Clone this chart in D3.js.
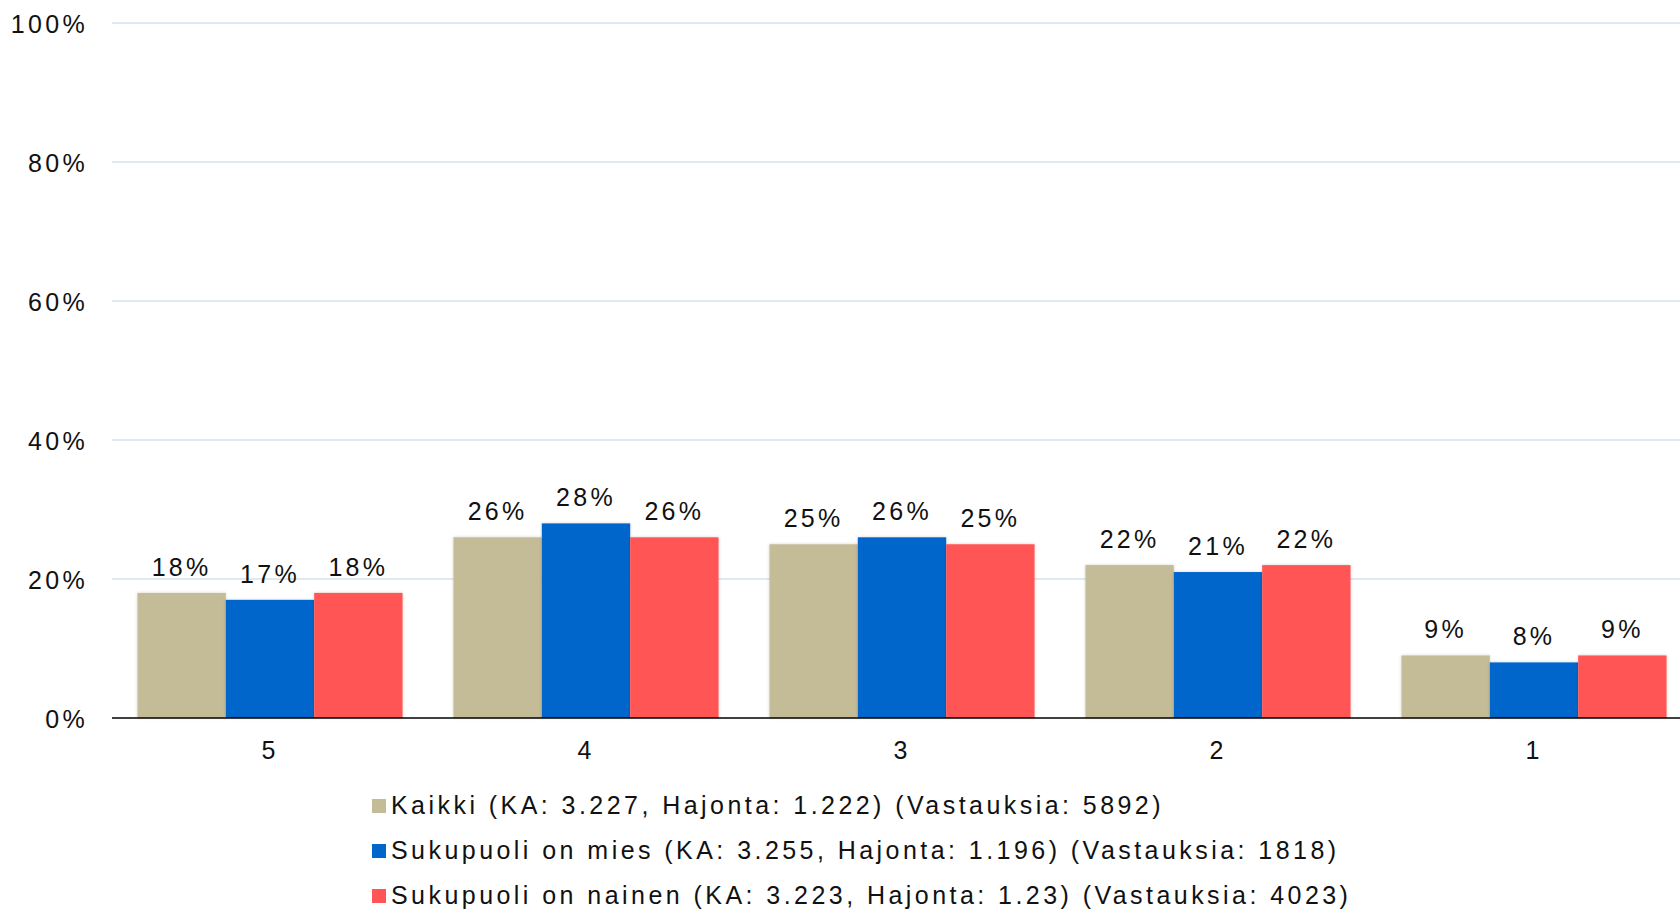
<!DOCTYPE html>
<html><head><meta charset="utf-8">
<script src="https://cdn.jsdelivr.net/npm/d3@7"></script>
<style>
html,body{margin:0;padding:0;background:#fff;overflow:hidden;}
svg text{font-family:"Liberation Sans",Arial,sans-serif;font-size:25px;letter-spacing:3.3px;fill:#111;}
svg text.leg{letter-spacing:3.45px;}
</style></head><body>
<svg id="c" width="1680" height="910"></svg>
<script>
const categories = ["5","4","3","2","1"];
const seriesNames = [
  "Kaikki (KA: 3.227, Hajonta: 1.222) (Vastauksia: 5892)",
  "Sukupuoli on mies (KA: 3.255, Hajonta: 1.196) (Vastauksia: 1818)",
  "Sukupuoli on nainen (KA: 3.223, Hajonta: 1.23) (Vastauksia: 4023)"
];
const kaikki = [18, 26, 25, 22, 9];
const mies = [17, 28, 26, 21, 8];
const nainen = [18, 26, 25, 22, 9];
const colors = ["#c4bc96", "#0066cc", "#ff5555"];
const yTicks = [0, 20, 40, 60, 80, 100];

const series = [kaikki, mies, nainen];
const svg = d3.select("#c");
const m = {left:112, top:23, bottom:718};
const x0 = d3.scaleBand().domain(categories).range([112, 1692]).padding(0);
const groupW = x0.bandwidth()*0.839;
const x1 = d3.scaleBand().domain(d3.range(series.length)).range([0, groupW]).padding(0);
const y = d3.scaleLinear().domain([0,100]).range([m.bottom, m.top]);

const defs = svg.append("defs");
const f = defs.append("filter").attr("id","sh").attr("x","-10%").attr("y","-10%").attr("width","120%").attr("height","120%");
f.append("feDropShadow").attr("dx",0).attr("dy",0).attr("stdDeviation",1.5).attr("flood-color","#000").attr("flood-opacity",0.18);

// grid
svg.append("g").selectAll("line").data(yTicks.filter(d=>d>0)).join("line")
  .attr("x1",112).attr("x2",1680).attr("y1",d=>y(d)).attr("y2",d=>y(d))
  .attr("stroke","#d6e1ee").attr("stroke-width",1.5);

// y labels
const yAxis = d3.axisLeft(y).tickValues(yTicks).tickFormat(d=>d+"%").tickSize(0).tickPadding(0);
const ya = svg.append("g").attr("transform","translate(88,0)").call(yAxis);
ya.select(".domain").remove();
ya.selectAll("text").style("font-size","25px").attr("fill","#111").attr("dy","0.36em");

// bars
const groups = svg.append("g").selectAll("g").data(categories).join("g")
  .attr("transform",d=>`translate(${x0(d)+(x0.bandwidth()-groupW)/2},0)`);
groups.each(function(c,ci){
  const g = d3.select(this);
  series.forEach((s,si)=>{
    g.append("rect").attr("x",x1(si)).attr("width",x1.bandwidth())
      .attr("y",y(s[ci])).attr("height",y(0)-y(s[ci])).attr("fill",colors[si]).attr("filter","url(#sh)");
  });
  series.forEach((s,si)=>{
    g.append("text").attr("x",x1(si)+x1.bandwidth()/2).attr("y",y(s[ci])-17)
      .attr("text-anchor","middle").text(s[ci]+"%");
  });
});

// x axis
const xAxis = d3.axisBottom(x0).tickSize(0).tickPadding(0);
const xa = svg.append("g").attr("transform",`translate(0,${m.bottom})`).call(xAxis);
xa.select(".domain").attr("stroke","#000").attr("stroke-width",1.7).attr("d","M112,0H1680");
xa.selectAll("text").attr("y",41).attr("dy",0).style("font-size","25px").attr("fill","#111");

// legend
const lg = svg.append("g").selectAll("g").data(seriesNames).join("g")
  .attr("transform",(d,i)=>`translate(372,${814+i*45})`);
lg.append("rect").attr("x",0).attr("y",-15).attr("width",14).attr("height",14).attr("fill",(d,i)=>colors[i]);
lg.append("text").attr("class","leg").attr("x",19).attr("y",0).text(d=>d);
</script>
</body></html>
